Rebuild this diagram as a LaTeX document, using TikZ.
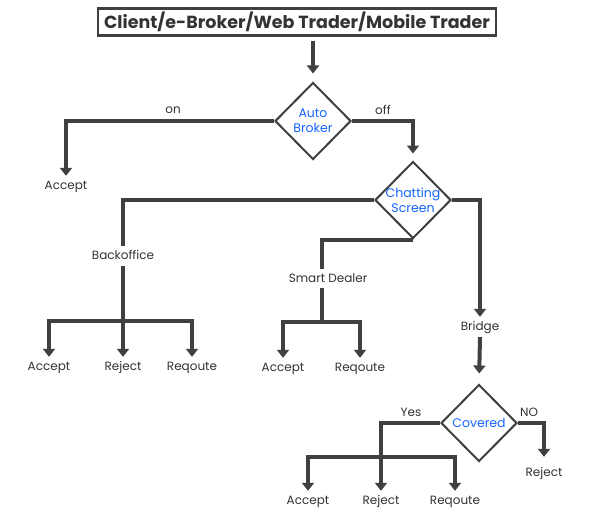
\documentclass[tikz,border=0pt]{standalone}
\usepackage{fontspec}
\setmainfont{Poppins}
\usetikzlibrary{arrows.meta,shapes.geometric}
\definecolor{ln}{HTML}{404040}
\definecolor{tx}{HTML}{333333}
\definecolor{bl}{HTML}{1565FF}
\begin{document}
\begin{tikzpicture}[x=1pt,y=-1pt,
  line/.style={draw=ln,line width=4pt},
  arr/.style={line,-{Triangle[width=12pt,length=8pt]}},
  lab/.style={font=\fontsize{12}{14}\selectfont,text=tx,inner xsep=1pt,inner ysep=5pt,text height=8pt,text depth=2pt,anchor=base},
  small/.style={font=\fontsize{12}{14}\selectfont,text=tx,inner sep=1pt},
  dia/.style={diamond,draw=ln,line width=2pt,minimum width=76pt,minimum height=77pt,inner sep=-10pt,
    font=\fontsize{12.5}{15}\selectfont,text=bl,align=center},
  titlebox/.style={draw=ln,line width=2.5pt,minimum width=398pt,minimum height=27pt,inner sep=0pt,
    font=\fontsize{17.5}{19}\selectfont\bfseries,text=tx}]
\useasboundingbox[fill=white] (0,0) rectangle (594,532);
% nodes
\node[titlebox] (title) at (297,22) {Client/e-Broker/Web Trader/Mobile Trader};
\node[dia] (ab) at (313,121) {Auto\\Broker};
\node[dia] (cs) at (413,200) {Chatting\\Screen};
\node[dia] (cov) at (479,423) {Covered};
\node[small] (on) at (173,110) {on};
\node[small] (off) at (383,110) {off};
\node[small] (yes) at (411,412) {Yes};
\node[small] (no) at (529,412) {NO};
\node[lab] (acc1) at (66,189) {Accept};
\node[lab] (bo) at (123,259) {Backoffice};
\node[lab] (sd) at (328,282) {Smart Dealer};
\node[lab] (br) at (480,330) {Bridge};
\node[lab] (acc2) at (49,370) {Accept};
\node[lab] (rej1) at (123,370) {Reject};
\node[lab] (req1) at (192,370) {Reqoute};
\node[lab] (acc3) at (283,371) {Accept};
\node[lab] (req2) at (360,371) {Reqoute};
\node[lab] (acc4) at (308,504) {Accept};
\node[lab] (rej3) at (381,504) {Reject};
\node[lab] (req3) at (455,504) {Reqoute};
\node[lab] (rej4) at (544,476) {Reject};
\coordinate (bobar) at (123,321);
\coordinate (sdtop) at (322,269);
\coordinate (sdbot) at (322,288);
\coordinate (sdbar) at (322,322);
\coordinate (ybar) at (381,457);
% connectors
\draw[arr,shorten <=4pt,shorten >=8pt] (ab.north |- title.south) -- (ab.north);
\draw[arr] (ab.west) -| (acc1.north);
\draw[arr,shorten >=7pt] (ab.east) -| (cs.north);
\draw[line] (cs.west) -| (bo.north);
\draw[arr] (bo.south) -- (rej1.north);
\draw[arr] (bobar) -| (acc2.north);
\draw[arr] (bobar) -| (req1.north);
\draw[line] (cs.south) -| (sdtop);
\draw[line] (sdbot) -- (sdbar);
\draw[arr] (sdbar) -| (acc3.north);
\draw[arr] (sdbar) -| (req2.north);
\draw[arr] (cs.east) -| (br.north);
\draw[arr,shorten >=10pt] (br.south) -- (cov.north);
\draw[line] (cov.west) -| (ybar);
\draw[arr] (ybar) -| (acc4.north);
\draw[arr] (ybar) -- (rej3.north);
\draw[arr] (ybar) -| (req3.north);
\draw[arr,shorten >=6pt] (cov.east) -| (rej4.north);
\end{tikzpicture}
\end{document}
